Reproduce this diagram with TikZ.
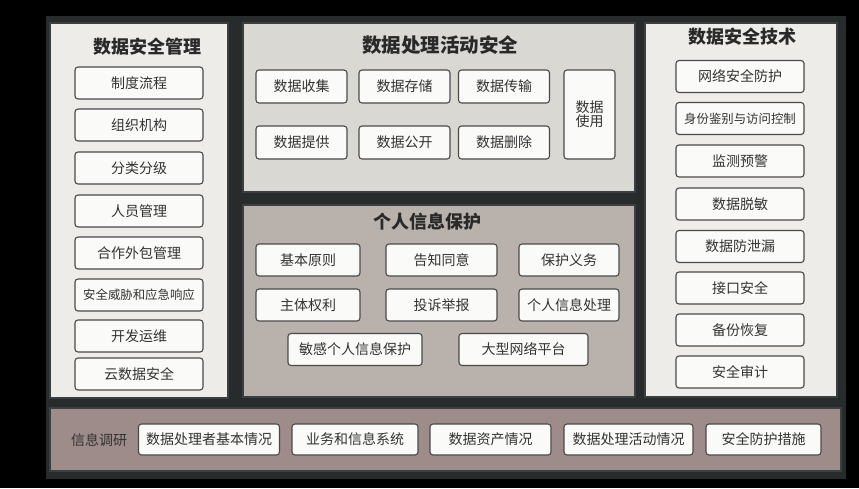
\documentclass[tikz,border=0pt]{standalone}
\usepackage{fontspec}
\setmainfont{Noto Sans CJK SC}
\definecolor{frame}{HTML}{272B2C}
\definecolor{panelline}{HTML}{3A3F41}
\definecolor{sidefill}{HTML}{EDECE8}
\definecolor{topfill}{HTML}{D9D8D3}
\definecolor{perfill}{HTML}{B9B2AC}
\definecolor{barfill}{HTML}{9D8C89}
\definecolor{boxfill}{HTML}{FAFAF9}
\definecolor{boxline}{HTML}{4A4A4A}
\definecolor{txt}{HTML}{333333}
\begin{document}
\begin{tikzpicture}[x=1pt,y=-1pt,
  item/.style={draw=boxline,fill=boxfill,text=txt,line width=1.1pt,rounded corners=3pt,
    minimum height=32pt,inner sep=0pt,font=\fontsize{14}{14}\selectfont},
  small/.style={font=\fontsize{12.4}{12.4}\selectfont},
  panel/.style={draw=panelline,line width=1.5pt},
  title/.style={text=txt!80!black,font=\fontsize{18}{18}\selectfont\bfseries}]
\useasboundingbox (0,0) rectangle (859,488);
\fill[black] (0,0) rectangle (859,488);
\fill[frame] (46,16) rectangle (846,479);

\draw[panel,fill=sidefill] (50,23) rectangle (228,398);
\draw[panel,fill=topfill] (243,23) rectangle (635,192);
\draw[panel,fill=perfill] (243,205) rectangle (635,397);
\draw[panel,fill=sidefill] (645,23) rectangle (837,397);
\draw[panel,fill=barfill] (50,408) rectangle (841,471);

\node[title] (mgmt) at (147,47) {数据安全管理};
\node[item,minimum width=128pt] (m1) at (139,83) {制度流程};
\node[item,minimum width=128pt] (m2) at (139,125) {组织机构};
\node[item,minimum width=128pt] (m3) at (139,168) {分类分级};
\node[item,minimum width=128pt] (m4) at (139,211) {人员管理};
\node[item,minimum width=128pt] (m5) at (139,253) {合作外包管理};
\node[item,small,minimum width=128pt] (m6) at (139,295) {安全威胁和应急响应};
\node[item,minimum width=128pt] (m7) at (139,336) {开发运维};
\node[item,minimum width=128pt] (m8) at (139,374) {云数据安全};

\node[title,font=\fontsize{19.5}{19.5}\selectfont\bfseries] (proc) at (440,45) {数据处理活动安全};
\node[item,minimum width=91pt,minimum height=33pt] (p1) at (301.5,86.5) {数据收集};
\node[item,minimum width=91pt,minimum height=33pt] (p2) at (404.5,86.5) {数据存储};
\node[item,minimum width=91pt,minimum height=33pt] (p3) at (504,86.5) {数据传输};
\node[item,minimum width=91pt,minimum height=33pt] (p4) at (301.5,142.5) {数据提供};
\node[item,minimum width=91pt,minimum height=33pt] (p5) at (404.5,142.5) {数据公开};
\node[item,minimum width=91pt,minimum height=33pt] (p6) at (504,142.5) {数据删除};
\node[item,minimum width=51pt,minimum height=89pt,align=center] (p7) at (589.5,114.5) {数据\\使用};

\node[title] (pers) at (427,222) {个人信息保护};
\node[item,minimum width=104pt] (i1) at (308,260) {基本原则};
\node[item,minimum width=111pt] (i2) at (441.5,260) {告知同意};
\node[item,minimum width=100pt] (i3) at (569,260) {保护义务};
\node[item,minimum width=104pt] (i4) at (308,305) {主体权利};
\node[item,minimum width=111pt] (i5) at (441.5,305) {投诉举报};
\node[item,minimum width=100pt] (i6) at (569,305) {个人信息处理};
\node[item,minimum width=134pt] (i7) at (355,349.5) {敏感个人信息保护};
\node[item,minimum width=129pt] (i8) at (523.5,349.5) {大型网络平台};

\node[title] (tech) at (742,37) {数据安全技术};
\node[item,minimum width=128pt] (t1) at (740,76.5) {网络安全防护};
\node[item,small,minimum width=128pt] (t2) at (740,118.5) {身份鉴别与访问控制};
\node[item,minimum width=128pt] (t3) at (740,161) {监测预警};
\node[item,minimum width=128pt] (t4) at (740,204) {数据脱敏};
\node[item,minimum width=128pt] (t5) at (740,246.5) {数据防泄漏};
\node[item,minimum width=128pt] (t6) at (740,288) {接口安全};
\node[item,minimum width=128pt] (t7) at (740,330) {备份恢复};
\node[item,minimum width=128pt] (t8) at (740,372) {安全审计};

\node[text=txt,font=\fontsize{14}{14}\selectfont] (survey) at (99,440) {信息调研};
\node[item,minimum width=141pt,minimum height=31pt] (s1) at (209,439.5) {数据处理者基本情况};
\node[item,minimum width=126pt,minimum height=31pt] (s2) at (355,439.5) {业务和信息系统};
\node[item,minimum width=121pt,minimum height=31pt] (s3) at (490.5,439.5) {数据资产情况};
\node[item,minimum width=129pt,minimum height=31pt] (s4) at (628.5,439.5) {数据处理活动情况};
\node[item,minimum width=115pt,minimum height=31pt] (s5) at (763.5,439.5) {安全防护措施};
\end{tikzpicture}
\end{document}
